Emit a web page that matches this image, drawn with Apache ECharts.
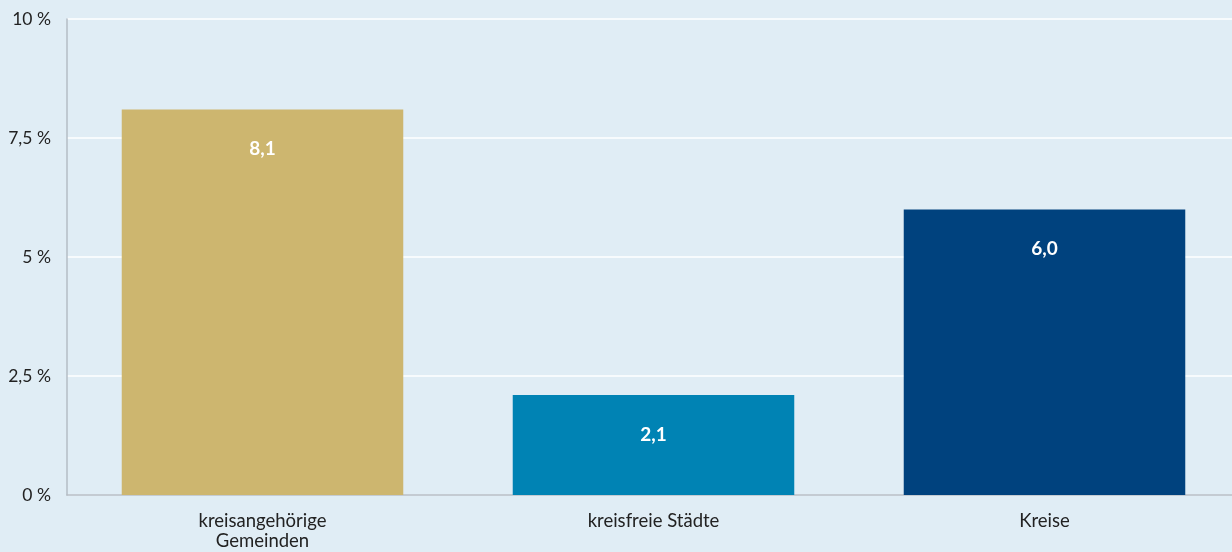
<!DOCTYPE html>
<html><head><meta charset="utf-8">
<script src="https://cdn.jsdelivr.net/npm/echarts@6/dist/echarts.min.js"></script>
<style>html,body{margin:0;padding:0;background:#e0edf5;}#c{width:1232px;height:552px;}</style>
</head><body><div id="c"></div>
<script>
const categories = ['kreisangehörige\nGemeinden', 'kreisfreie Städte', 'Kreise'];
const values = [8.1, 2.1, 6.0];
const barColors = ['#cdb66f', '#0083b4', '#00427e'];
const yTicks = [0, 2.5, 5, 7.5, 10];

const chart = echarts.init(document.getElementById('c'));
chart.setOption({
  backgroundColor: '#e0edf5',
  textStyle: { fontFamily: 'Lato' },
  grid: { left: 67, top: 19, right: -8, bottom: 57, outerBoundsMode: 'none', containLabel: false },
  xAxis: {
    type: 'category', data: categories,
    axisLine: { lineStyle: { color: '#b4bcc4', width: 1.5 } },
    axisTick: { inside: true, length: 10, lineStyle: { color: '#b4bcc4', width: 1.5 } },
    axisLabel: { color: '#222', fontSize: 18.5, margin: 16, lineHeight: 20, fontFamily: 'Lato' }
  },
  yAxis: {
    type: 'value', min: 0, max: 10, interval: 2.5,
    axisLine: { show: true, lineStyle: { color: '#b4bcc4', width: 1.5 } },
    axisTick: { show: false },
    splitLine: { lineStyle: { color: '#ffffff', width: 1.5 } },
    axisLabel: { color: '#222', fontSize: 17.5, margin: 16, fontFamily: 'Lato',
      formatter: v => yTicks.includes(v) ? String(v).replace('.', ',') + ' %' : '' }
  },
  series: [{
    type: 'bar', barCategoryGap: '28%',
    data: values.map((v, i) => ({ value: v, itemStyle: { color: barColors[i] } })),
    label: { show: true, position: 'insideTop', distance: 30, color: '#fff', fontSize: 19,
      fontWeight: 'bold', fontFamily: 'Lato',
      formatter: p => p.value.toFixed(1).replace('.', ',') }
  }],
  animation: false
});
</script></body></html>
